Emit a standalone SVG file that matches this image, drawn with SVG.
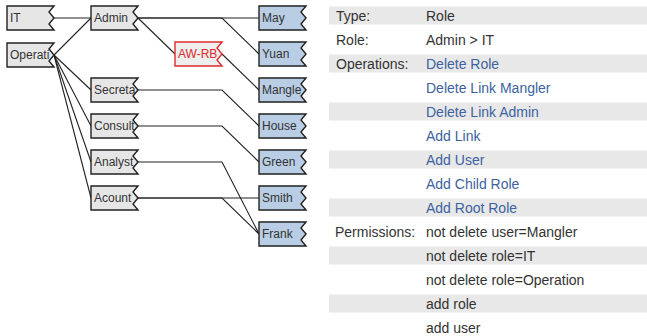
<svg xmlns="http://www.w3.org/2000/svg" width="647" height="336" viewBox="0 0 647 336">
<style>
  .n polygon { stroke: #222; stroke-width: 1.4; }
  .g polygon { fill: #e6e6e6; }
  .b polygon { fill: #b9cde5; }
  .r polygon { fill: #eeeeee; stroke: #e02a2a; }
  .n text { font-family: "Liberation Sans", Arial, sans-serif; font-size: 12px; fill: #333; }
  .r text { fill: #d92b2b; }
  .conn path { fill: none; stroke: #222; stroke-width: 1.1; }
  .band { fill: #e8e8e8; }
  .t { font-family: "Liberation Sans", Arial, sans-serif; font-size: 14px; fill: #333; }
  .v { fill: #3d62a0; }
</style>
<defs>
  <polygon id="shape" points="0,0 47,0 42,6 47,12 42,18 47,24 0,24"/>
  <clipPath id="clip" clipPathUnits="userSpaceOnUse">
    <polygon points="0,0 47,0 42,6 47,12 42,18 47,24 0,24"/>
  </clipPath>
</defs>
<rect width="647" height="336" fill="#fff"/>

<g id="connectors" class="conn">
  <path d="M54,18 L91,18"/>
  <path d="M54,55 L91,18"/>
  <path d="M54,55 L91,90"/>
  <path d="M54,55 L91,126"/>
  <path d="M54,55 L91,162"/>
  <path d="M54,55 L91,198"/>
  <path d="M138,18 L259,18"/>
  <path d="M138,18 L222,18 L259,54"/>
  <path d="M138,18 L175,54"/>
  <path d="M222,54 L259,90"/>
  <path d="M138,90 L222,90 L259,126"/>
  <path d="M138,126 L222,126 L259,162"/>
  <path d="M138,162 L222,162 L259,234"/>
  <path d="M138,198 L259,198"/>
  <path d="M138,198 L222,198 L259,234"/>
</g>

<g id="node-it" class="n g" transform="translate(7,6)"><polygon points="0,0 47,0 42,6 47,12 42,18 47,24 0,24"/><text x="3" y="16" clip-path="url(#clip)">IT</text></g>
<g id="node-operati" class="n g" transform="translate(7,43)"><polygon points="0,0 47,0 42,6 47,12 42,18 47,24 0,24"/><text x="3" y="16" clip-path="url(#clip)">Operati</text></g>
<g id="node-admin" class="n g" transform="translate(91,6)"><polygon points="0,0 47,0 42,6 47,12 42,18 47,24 0,24"/><text x="3" y="16" clip-path="url(#clip)">Admin</text></g>
<g id="node-secreta" class="n g" transform="translate(91,78)"><polygon points="0,0 47,0 42,6 47,12 42,18 47,24 0,24"/><text x="3" y="16" clip-path="url(#clip)">Secreta</text></g>
<g id="node-consult" class="n g" transform="translate(91,114)"><polygon points="0,0 47,0 42,6 47,12 42,18 47,24 0,24"/><text x="3" y="16" clip-path="url(#clip)">Consult</text></g>
<g id="node-analyst" class="n g" transform="translate(91,150)"><polygon points="0,0 47,0 42,6 47,12 42,18 47,24 0,24"/><text x="3" y="16" clip-path="url(#clip)">Analyst</text></g>
<g id="node-acount" class="n g" transform="translate(91,186)"><polygon points="0,0 47,0 42,6 47,12 42,18 47,24 0,24"/><text x="3" y="16" clip-path="url(#clip)">Acount</text></g>
<g id="node-awrb" class="n r" transform="translate(175,42)"><polygon points="0,0 47,0 42,6 47,12 42,18 47,24 0,24"/><text x="3" y="16" clip-path="url(#clip)">AW-RB</text></g>
<g id="node-may" class="n b" transform="translate(259,6)"><polygon points="0,0 47,0 42,6 47,12 42,18 47,24 0,24"/><text x="3" y="16" clip-path="url(#clip)">May</text></g>
<g id="node-yuan" class="n b" transform="translate(259,42)"><polygon points="0,0 47,0 42,6 47,12 42,18 47,24 0,24"/><text x="3" y="16" clip-path="url(#clip)">Yuan</text></g>
<g id="node-mangle" class="n b" transform="translate(259,78)"><polygon points="0,0 47,0 42,6 47,12 42,18 47,24 0,24"/><text x="3" y="16" clip-path="url(#clip)">Mangle</text></g>
<g id="node-house" class="n b" transform="translate(259,114)"><polygon points="0,0 47,0 42,6 47,12 42,18 47,24 0,24"/><text x="3" y="16" clip-path="url(#clip)">House</text></g>
<g id="node-green" class="n b" transform="translate(259,150)"><polygon points="0,0 47,0 42,6 47,12 42,18 47,24 0,24"/><text x="3" y="16" clip-path="url(#clip)">Green</text></g>
<g id="node-smith" class="n b" transform="translate(259,186)"><polygon points="0,0 47,0 42,6 47,12 42,18 47,24 0,24"/><text x="3" y="16" clip-path="url(#clip)">Smith</text></g>
<g id="node-frank" class="n b" transform="translate(259,222)"><polygon points="0,0 47,0 42,6 47,12 42,18 47,24 0,24"/><text x="3" y="16" clip-path="url(#clip)">Frank</text></g>

<g id="details">
  <rect class="band" x="329" y="6.5" width="318" height="18"/>
  <rect class="band" x="329" y="54.5" width="318" height="18"/>
  <rect class="band" x="329" y="102.5" width="318" height="18"/>
  <rect class="band" x="329" y="150.5" width="318" height="18"/>
  <rect class="band" x="329" y="198.5" width="318" height="18"/>
  <rect class="band" x="329" y="246.5" width="318" height="18"/>
  <rect class="band" x="329" y="294.5" width="318" height="18"/>

  <text class="t" x="336" y="20.5">Type:</text>
  <text class="t" x="426" y="20.5">Role</text>
  <text class="t" x="336" y="44.5">Role:</text>
  <text class="t" x="426" y="44.5">Admin &gt; IT</text>
  <text class="t" x="336" y="68.5">Operations:</text>
  <text class="t v" x="426" y="68.5">Delete Role</text>
  <text class="t v" x="426" y="92.5">Delete Link Mangler</text>
  <text class="t v" x="426" y="116.5">Delete Link Admin</text>
  <text class="t v" x="426" y="140.5">Add Link</text>
  <text class="t v" x="426" y="164.5">Add User</text>
  <text class="t v" x="426" y="188.5">Add Child Role</text>
  <text class="t v" x="426" y="212.5">Add Root Role</text>
  <text class="t" x="335" y="236.5">Permissions:</text>
  <text class="t" x="426" y="236.5">not delete user=Mangler</text>
  <text class="t" x="426" y="260.5">not delete role=IT</text>
  <text class="t" x="426" y="284.5">not delete role=Operation</text>
  <text class="t" x="426" y="308.5">add role</text>
  <text class="t" x="426" y="332.5">add user</text>
</g>
</svg>
